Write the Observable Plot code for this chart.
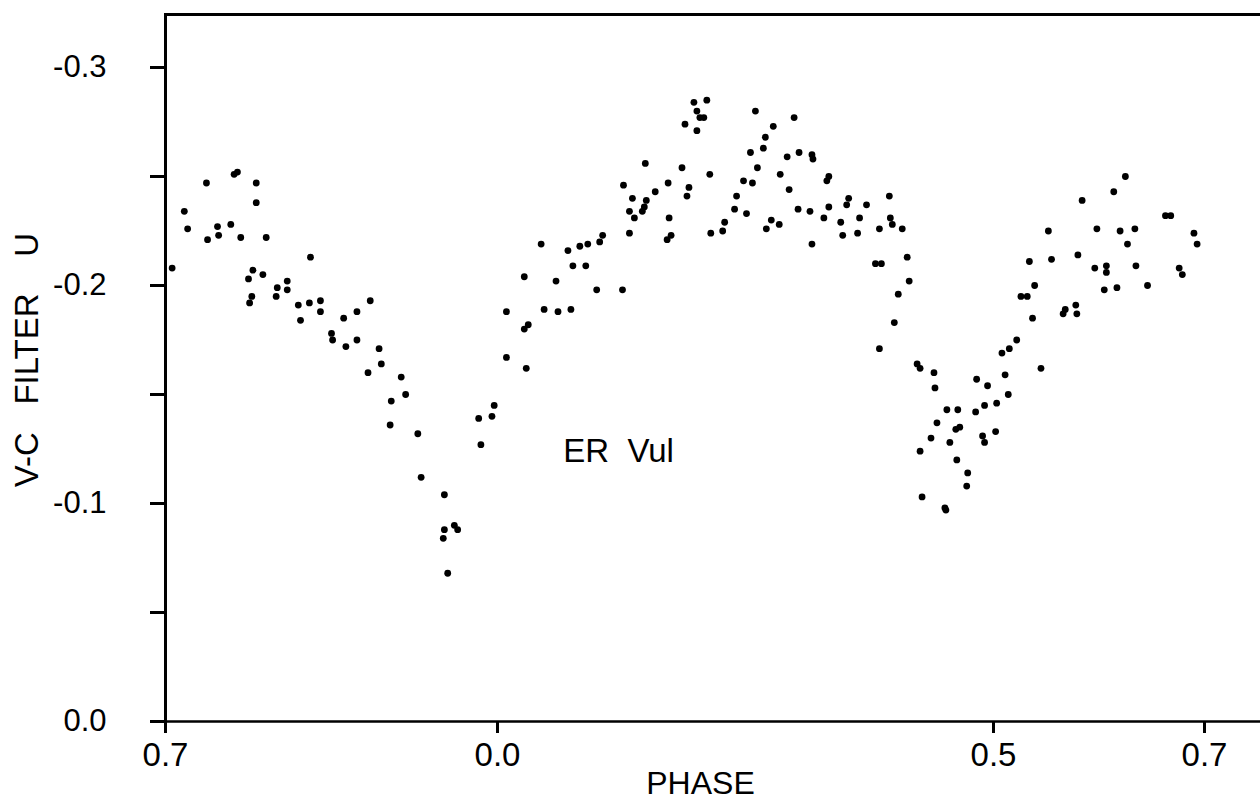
<!DOCTYPE html>
<html><head><meta charset="utf-8">
<script src="https://cdn.jsdelivr.net/npm/d3@7"></script>
<script src="https://cdn.jsdelivr.net/npm/@observablehq/plot@0.6"></script>
<style>html,body{margin:0;padding:0;background:#fff;}</style>
</head><body><div id="chart"></div>
<script>
// Phase (left edge labelled 0.7 = phase -0.3) and V-C magnitude, filter U
const phase = [
 -0.294,-0.283,-0.280,-0.263,-0.262,-0.253,-0.252,-0.241,-0.238,-0.235,
 -0.232,-0.218,-0.218,-0.209,-0.221,-0.225,-0.212,-0.222,-0.224,-0.199,
 -0.200,-0.190,-0.190,-0.169,-0.180,-0.170,-0.178,-0.160,-0.160,-0.150,
 -0.149,-0.139,-0.127,-0.115,-0.137,-0.127,-0.107,-0.105,-0.117,-0.087,
 -0.083,-0.096,-0.097,-0.072,-0.069,-0.048,-0.048,-0.049,-0.039,-0.036,
 -0.045,-0.017,-0.005,-0.003,-0.015,
 0.009,0.009,0.027,0.031,0.029,0.027,0.044,0.059,0.047,0.061,
 0.074,0.071,0.076,0.083,0.089,0.091,0.100,0.103,0.106,0.126,
 0.127,0.133,0.133,0.138,0.136,0.146,0.148,0.150,0.149,0.159,
 0.172,0.173,0.171,0.175,0.186,0.193,0.191,0.189,0.198,0.211,
 0.201,0.204,0.208,0.201,0.214,0.215,0.227,0.229,0.239,0.251,
 0.241,0.248,0.257,0.262,0.255,0.268,0.270,0.278,0.260,0.276,
 0.271,0.284,0.285,0.299,0.292,0.294,0.304,0.317,0.318,0.334,
 0.332,0.303,0.315,0.317,0.334,0.329,0.346,0.348,0.354,0.352,
 0.372,0.365,0.363,0.385,0.395,0.396,0.398,0.408,0.381,0.387,
 0.413,0.415,0.404,0.400,0.385,0.423,0.426,0.440,0.441,0.453,
 0.464,0.482,0.491,0.483,0.494,0.426,0.437,0.443,0.456,0.463,
 0.462,0.466,0.474,0.473,0.428,0.451,0.452,0.489,0.491,
 0.503,0.514,0.511,0.508,0.515,0.522,0.502,0.534,0.526,0.532,
 0.537,0.545,0.539,0.555,0.566,0.568,0.578,0.579,0.596,0.607,
 0.607,0.605,0.617,0.625,0.614,0.584,0.663,0.668,0.552,0.598,
 0.620,0.634,0.627,0.690,0.693,0.580,0.635,0.676,0.679,0.646
];
const vc = [
 -0.208,-0.234,-0.226,-0.247,-0.221,-0.227,-0.223,-0.228,-0.251,-0.252,
 -0.222,-0.247,-0.238,-0.222,-0.207,-0.203,-0.205,-0.195,-0.192,-0.199,
 -0.195,-0.202,-0.198,-0.213,-0.191,-0.192,-0.184,-0.193,-0.188,-0.178,
 -0.175,-0.185,-0.188,-0.193,-0.172,-0.175,-0.171,-0.164,-0.160,-0.158,
 -0.150,-0.147,-0.136,-0.132,-0.112,-0.104,-0.088,-0.084,-0.090,-0.088,
 -0.068,-0.139,-0.140,-0.145,-0.127,
 -0.188,-0.167,-0.180,-0.182,-0.162,-0.204,-0.219,-0.202,-0.189,-0.188,
 -0.189,-0.216,-0.209,-0.218,-0.209,-0.219,-0.198,-0.220,-0.223,-0.198,
 -0.246,-0.224,-0.234,-0.231,-0.240,-0.234,-0.236,-0.239,-0.256,-0.243,
 -0.247,-0.231,-0.221,-0.223,-0.254,-0.245,-0.241,-0.274,-0.284,-0.285,
 -0.280,-0.277,-0.277,-0.271,-0.251,-0.224,-0.225,-0.229,-0.235,-0.233,
 -0.241,-0.248,-0.247,-0.254,-0.261,-0.263,-0.268,-0.273,-0.280,-0.230,
 -0.226,-0.228,-0.251,-0.277,-0.259,-0.244,-0.261,-0.260,-0.258,-0.250,
 -0.248,-0.235,-0.234,-0.219,-0.236,-0.231,-0.229,-0.223,-0.240,-0.237,
 -0.237,-0.231,-0.224,-0.226,-0.241,-0.231,-0.228,-0.226,-0.210,-0.210,
 -0.213,-0.202,-0.196,-0.183,-0.171,-0.164,-0.162,-0.160,-0.153,-0.143,
 -0.143,-0.142,-0.145,-0.157,-0.154,-0.124,-0.130,-0.137,-0.128,-0.120,
 -0.134,-0.135,-0.114,-0.108,-0.103,-0.098,-0.097,-0.131,-0.128,
 -0.146,-0.150,-0.159,-0.169,-0.171,-0.175,-0.133,-0.211,-0.195,-0.195,
 -0.185,-0.162,-0.200,-0.212,-0.187,-0.189,-0.191,-0.187,-0.208,-0.209,
 -0.206,-0.198,-0.199,-0.250,-0.243,-0.239,-0.232,-0.232,-0.225,-0.226,
 -0.225,-0.226,-0.219,-0.224,-0.219,-0.214,-0.209,-0.208,-0.205,-0.200
];
const xTicks = [-0.3, 0, 0.5, 0.7];
const xTickLabels = ["0.7", "0.0", "0.5", "0.7"];
const yMajor = [-0.3, -0.2, -0.1, 0];
const yMajorLabels = ["-0.3", "-0.2", "-0.1", "0.0"];
const yMinor = [-0.25, -0.15, -0.05];
const xLabel = "PHASE";
const yLabel = "V-C\u00a0\u00a0\u00a0FILTER\u00a0\u00a0\u00a0\u00a0U";
const starLabel = [{phase: 0.122, vc: -0.124, text: "ER\u00a0\u00a0Vul"}];

const points = phase.map((p, i) => ({phase: p, vc: vc[i]}));
const xDomain = [-0.3, 0, 0.5, 0.7, 0.753];
const xRange = [165, 497, 993, 1204, 1260];
const yTop = -0.3243;
const font = "'Liberation Sans', Arial, sans-serif";

const chart = Plot.plot({
  width: 1260,
  height: 800,
  marginLeft: 164,
  marginRight: 0,
  marginTop: 14,
  marginBottom: 79,
  style: {fontFamily: font, fontSize: "30px", background: "#fff", color: "#000", overflow: "visible"},
  x: {type: "linear", domain: xDomain, range: xRange},
  y: {type: "linear", domain: [0, yTop]},
  marks: [
    Plot.axisX({ticks: xTicks, tickFormat: d => xTickLabels[xTicks.indexOf(d)], tickSize: 12, tickPadding: 9, strokeWidth: 3, fontSize: 33, label: null}),
    Plot.axisY({ticks: yMajor, tickFormat: d => yMajorLabels[yMajor.indexOf(d)], tickSize: 14, tickPadding: 44, strokeWidth: 3, fontSize: 31, label: null}),
    Plot.axisY({ticks: yMinor, tickFormat: () => "", tickSize: 14, strokeWidth: 3, label: null}),
    Plot.ruleX([xDomain[0]], {strokeWidth: 3}),
    Plot.ruleY([0], {strokeWidth: 2.5}),
    Plot.ruleY([yTop], {strokeWidth: 3}),
    Plot.dot(points, {x: "phase", y: "vc", r: 3.4, fill: "#000", stroke: null}),
    Plot.text(starLabel, {x: "phase", y: "vc", text: "text", fontSize: 33}),
    Plot.text([xLabel], {frameAnchor: "bottom", dx: -12, dy: 62, fontSize: 32, lineAnchor: "middle", textAnchor: "middle"}),
    Plot.text([yLabel], {frameAnchor: "left", rotate: -90, dx: -137, dy: -8, fontSize: 33, lineAnchor: "middle", textAnchor: "middle"})
  ]
});
document.getElementById("chart").append(chart);
</script>
</body></html>
